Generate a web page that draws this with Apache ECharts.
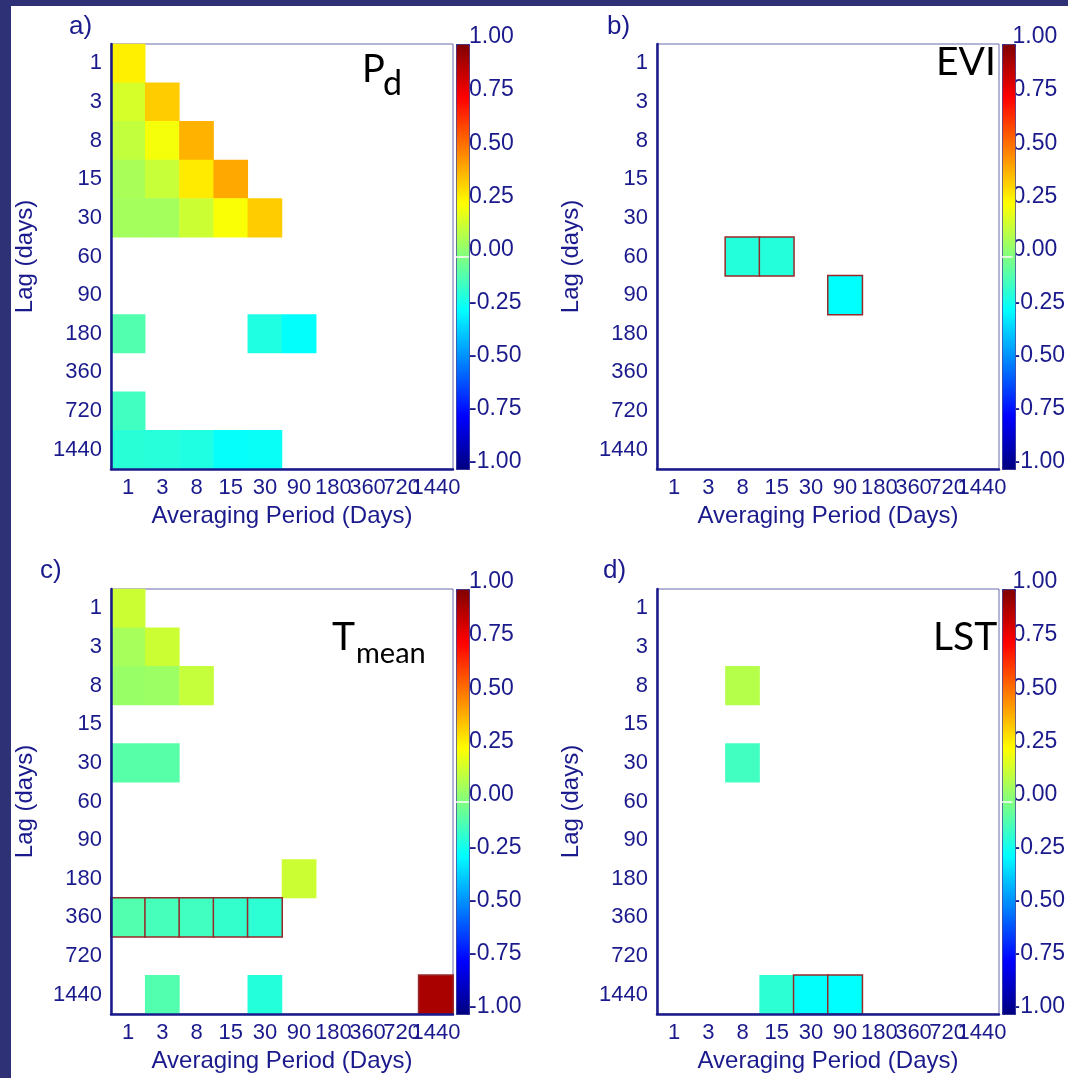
<!DOCTYPE html>
<html>
<head>
<meta charset="utf-8">
<script src="https://cdn.jsdelivr.net/npm/echarts@6/dist/echarts.min.js"></script>
<style>
  html, body { margin: 0; padding: 0; background: #fff; }
  #chart { width: 1068px; height: 1078px; }
</style>
</head>
<body>
<div id="chart"></div>
<script>
// categories
const avgPeriods = ['1', '3', '8', '15', '30', '90', '180', '360', '720', '1440']
const lags = ['1', '3', '8', '15', '30', '60', '90', '180', '360', '720', '1440']
const cbTicks = [-1, -0.75, -0.5, -0.25, 0, 0.25, 0.5, 0.75, 1]

// cells: [averaging period, lag, correlation]
const pdCells = [
  ['1', '1', 0.28],
  ['1', '3', 0.17], ['3', '3', 0.35],
  ['1', '8', 0.13], ['3', '8', 0.23], ['8', '8', 0.40],
  ['1', '15', 0.08], ['3', '15', 0.14], ['8', '15', 0.29], ['15', '15', 0.42],
  ['1', '30', 0.07], ['3', '30', 0.07], ['8', '30', 0.15], ['15', '30', 0.24], ['30', '30', 0.35],
  ['1', '180', -0.09], ['30', '180', -0.19], ['90', '180', -0.245],
  ['1', '720', -0.125],
  ['1', '1440', -0.17], ['3', '1440', -0.175], ['8', '1440', -0.19], ['15', '1440', -0.24], ['30', '1440', -0.235]
]
const eviCells = [
  ['8', '60', -0.18], ['15', '60', -0.18],
  ['90', '90', -0.25]
]
const tmeanCells = [
  ['1', '1', 0.15],
  ['1', '3', 0.075], ['3', '3', 0.15],
  ['1', '8', 0.05], ['3', '8', 0.055], ['8', '8', 0.135],
  ['1', '30', -0.08], ['3', '30', -0.08],
  ['90', '180', 0.15],
  ['1', '360', -0.09], ['3', '360', -0.115], ['8', '360', -0.125], ['15', '360', -0.15], ['30', '360', -0.165],
  ['3', '1440', -0.09], ['30', '1440', -0.18], ['1440', '1440', 0.92]
]
const lstCells = [
  ['8', '8', 0.105],
  ['8', '30', -0.125],
  ['15', '1440', -0.165], ['30', '1440', -0.245], ['90', '1440', -0.25]
]

// cells drawn with an outline: [averaging period, lag]
const pdSig = []
const eviSig = [['8', '60'], ['15', '60'], ['90', '90']]
const tmeanSig = [['1', '360'], ['3', '360'], ['8', '360'], ['15', '360'], ['30', '360'], ['1440', '1440']]
const lstSig = [['30', '1440'], ['90', '1440']]

const NAVY = '#1a1a8c'
const FONT = 'Liberation Sans'
const JET = ['#000080', '#0000ff', '#0080ff', '#00ffff', '#80ff80', '#ffff00', '#ff8000', '#ff0000', '#800000']

const panels = [
  { cells: pdCells, sig: pdSig, left: 111, top: 44, cb: 456 },
  { cells: eviCells, sig: eviSig, left: 657, top: 44, cb: 1002 },
  { cells: tmeanCells, sig: tmeanSig, left: 111, top: 589, cb: 456 },
  { cells: lstCells, sig: lstSig, left: 657, top: 589, cb: 1002 }
]
const GW = 342
const GH = 425

const grid = []
const xAxis = []
const yAxis = []
const series = []
const visualMap = []

panels.forEach((p, i) => {
  grid.push({
    left: p.left, top: p.top, width: GW, height: GH,
    show: true, borderColor: '#6a6ab0', borderWidth: 1, backgroundColor: 'transparent'
  })
  xAxis.push({
    type: 'category', gridIndex: i, data: avgPeriods, position: 'bottom', z: 5,
    name: 'Averaging Period (Days)', nameLocation: 'middle', nameGap: 35,
    nameTextStyle: { color: NAVY, fontSize: 24, fontFamily: FONT },
    axisLine: { lineStyle: { color: NAVY, width: 2.5 } },
    axisTick: { inside: true, alignWithLabel: true, length: 8, lineStyle: { color: NAVY, width: 2 } },
    axisLabel: { interval: 0, color: NAVY, fontSize: 22, fontFamily: FONT, margin: 8 },
    splitLine: { show: false }
  })
  yAxis.push({
    type: 'category', gridIndex: i, data: lags, inverse: true, z: 5,
    name: 'Lag (days)', nameLocation: 'middle', nameGap: 74,
    nameTextStyle: { color: NAVY, fontSize: 24, fontFamily: FONT },
    axisLine: { lineStyle: { color: NAVY, width: 2.5 } },
    axisTick: { inside: true, alignWithLabel: true, length: 8, lineStyle: { color: NAVY, width: 2 } },
    axisLabel: { interval: 0, color: NAVY, fontSize: 22, fontFamily: FONT, margin: 9 },
    splitLine: { show: false }
  })

  const sigKeys = p.sig.map(s => s[0] + '|' + s[1])
  series.push({
    type: 'heatmap', xAxisIndex: i, yAxisIndex: i,
    data: p.cells.map(c => {
      const item = { value: [avgPeriods.indexOf(c[0]), lags.indexOf(c[1]), c[2]] }
      if (sigKeys.indexOf(c[0] + '|' + c[1]) !== -1) {
        item.itemStyle = { borderColor: '#962a2a', borderWidth: 1.5 }
      }
      return item
    }),
    emphasis: { disabled: true }
  })

  visualMap.push({
    type: 'continuous', seriesIndex: i, min: -1, max: 1, calculable: false,
    left: p.cb, top: p.top, itemWidth: 13, itemHeight: GH, padding: 0,
    borderColor: NAVY, borderWidth: 1,
    inRange: { color: JET }
  })
})

// colour bar tick labels
panels.forEach((p, i) => {
  grid.push({ left: p.cb, top: p.top, width: 13, height: GH })
  xAxis.push({ type: 'value', gridIndex: 4 + i, min: 0, max: 1, show: false })
  yAxis.push({
    type: 'value', gridIndex: 4 + i, position: 'right',
    min: cbTicks[0], max: cbTicks[cbTicks.length - 1], interval: 0.25,
    axisLine: { show: false }, axisTick: { show: false }, splitLine: { show: false },
    axisLabel: {
      color: NAVY, fontSize: 23, fontFamily: FONT, margin: 0,
      verticalAlign: 'bottom', lineHeight: 14,
      formatter: v => v.toFixed(2)
    }
  })
  series.push({
    type: 'line', xAxisIndex: 4 + i, yAxisIndex: 4 + i, data: [], silent: true, z: 10,
    markLine: {
      silent: true, symbol: 'none', label: { show: false },
      lineStyle: { color: '#ffffff', width: 1.5, type: 'solid' },
      data: [{ yAxis: 0 }]
    }
  })
})

const txt = (text, x, y, size, fill, family) => ({
  type: 'text', x, y, z: 20,
  style: { text, fill, font: size + 'px "' + family + '"', verticalAlign: 'middle' }
})

const graphic = [
  { type: 'rect', shape: { x: 0, y: 0, width: 11, height: 1078 }, style: { fill: '#2f3177' }, z: 20 },
  { type: 'rect', shape: { x: 0, y: 0, width: 1068, height: 6 }, style: { fill: '#2f3177' }, z: 20 },
  txt('a)', 69, 27, 26, NAVY, FONT),
  txt('b)', 607, 27, 26, NAVY, FONT),
  txt('c)', 40, 571, 26, NAVY, FONT),
  txt('d)', 603, 571, 26, NAVY, FONT),
  txt('P', 362, 70, 38, '#000', 'Lato'),
  txt('d', 383, 84, 34, '#000', 'Lato'),
  txt('EVI', 936, 62, 39, '#000', 'Lato'),
  txt('T', 332, 637, 39, '#000', 'Lato'),
  txt('mean', 356, 654, 29, '#000', 'Lato'),
  txt('LST', 933, 637, 39, '#000', 'Lato')
]

const chart = echarts.init(document.getElementById('chart'))
chart.setOption({
  backgroundColor: '#ffffff',
  animation: false,
  grid, xAxis, yAxis, series, visualMap, graphic
})
</script>
</body>
</html>
